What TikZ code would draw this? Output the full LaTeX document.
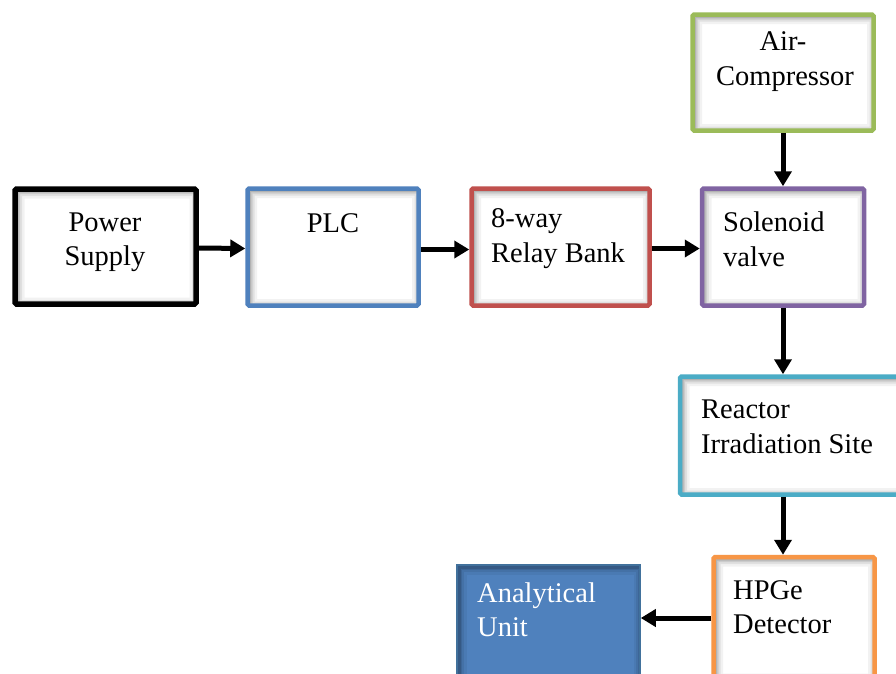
\documentclass[tikz,border=0pt]{standalone}
\usepackage{fontspec}
\setmainfont{Liberation Serif}
\usetikzlibrary{arrows.meta}

\definecolor{psblack}{HTML}{000000}
\definecolor{plcblue}{HTML}{4F81BD}
\definecolor{relayred}{HTML}{C0504D}
\definecolor{valvepurple}{HTML}{8064A2}
\definecolor{airgreen}{HTML}{9BBB59}
\definecolor{reactorcyan}{HTML}{4BACC6}
\definecolor{detorange}{HTML}{F79646}
\definecolor{unitedge}{HTML}{41719C}

\tikzset{
  % soft inner shadow, a little heavier along the top and left edges
  innershade/.style={path picture={
    \foreach \w/\o in {16/0.05, 11/0.07, 7/0.09, 4/0.12}{
      \draw[black, opacity=\o, line width=\w pt]
        ([shift={(1.5pt,-1.5pt)}]path picture bounding box.north west) rectangle
        ([shift={(1.5pt,-1.5pt)}]path picture bounding box.south east);
    }}},
  blockbox/.style={draw, rectangle, rounded corners=1.5pt, line width=4.5pt,
    fill=white, inner sep=0pt, innershade},
  blocktext/.style={inner sep=0pt, font=\fontsize{28.5}{36}\selectfont},
  flow/.style={line width=5pt, -{Triangle[length=15pt,width=17pt]}},
}

\begin{document}
\begin{tikzpicture}[x=1pt, y=-1pt]
  \useasboundingbox (0,0) rectangle (896,673);
  \clip (0,0) rectangle (896,673);
  \fill[white] (0,0) rectangle (896,673);

  % blocks
  \node[blockbox, draw=psblack, line width=5.5pt, minimum width=181pt, minimum height=115pt]
    (ps) at (105.5,246.5) {};
  \node[blockbox, draw=plcblue, minimum width=171pt, minimum height=117pt]
    (plc) at (333,247) {};
  \node[blockbox, draw=relayred, minimum width=178pt, minimum height=117pt]
    (relay) at (560.5,247) {};
  \node[blockbox, draw=valvepurple, minimum width=162pt, minimum height=117pt]
    (valve) at (783,247) {};
  \node[blockbox, draw=airgreen, minimum width=181pt, minimum height=116pt]
    (air) at (783,72.5) {};
  \node[blockbox, draw=reactorcyan, minimum width=230pt, minimum height=118pt]
    (reactor) at (795,435.5) {};
  \node[blockbox, draw=detorange, minimum width=161pt, minimum height=123pt]
    (hpge) at (794,618.5) {};
  \node[blockbox, draw=unitedge, fill=plcblue, line width=1.5pt, rounded corners=0pt,
    minimum width=183pt, minimum height=125pt]
    (unit) at (548.5,627.5) {};

  % labels
  \node[blocktext, anchor=base] (tps1) at (105,231) {Power};
  \node[blocktext, anchor=base] (tps2) at (105,265) {Supply};
  \node[blocktext, anchor=base] (tplc) at (333,232) {PLC};
  \node[blocktext, anchor=base west] (trel1) at (491,227) {8-way};
  \node[blocktext, anchor=base west] (trel2) at (491,262) {Relay Bank};
  \node[blocktext, anchor=base west] (tval1) at (723,231) {Solenoid};
  \node[blocktext, anchor=base west] (tval2) at (723,266) {valve};
  \node[blocktext, anchor=base] (tair1) at (783,50) {Air-};
  \node[blocktext, anchor=base] (tair2) at (785,85) {Compressor};
  \node[blocktext, anchor=base west] (trea1) at (701,418) {Reactor};
  \node[blocktext, anchor=base west] (trea2) at (701,453) {Irradiation Site};
  \node[blocktext, anchor=base west] (tdet1) at (733,599) {HPGe};
  \node[blocktext, anchor=base west] (tdet2) at (733,633) {Detector};
  \node[blocktext, anchor=base west, text=white] (tun1) at (477,602) {Analytical};
  \node[blocktext, anchor=base west, text=white] (tun2) at (477,636) {Unit};

  % connectors
  \coordinate (spine) at (783,0);
  \draw[flow] ([yshift=-1.5pt]ps.east) -- ([yshift=-1.5pt]plc.west);
  \draw[flow] ([yshift=-2.5pt]plc.east) -- ([yshift=-2.5pt]relay.west);
  \draw[flow] ([yshift=-1.5pt]relay.east) -- ([yshift=-1.5pt]valve.west);
  \draw[flow] (air.south) -- (valve.north);
  \draw[flow] (valve.south) -- (spine |- reactor.north);
  \draw[flow] (spine |- reactor.south) -- (spine |- hpge.north);
  \draw[flow] ([yshift=0.5pt]hpge.west) -- ([yshift=0.5pt]hpge.west -| unit.east);
\end{tikzpicture}
\end{document}
